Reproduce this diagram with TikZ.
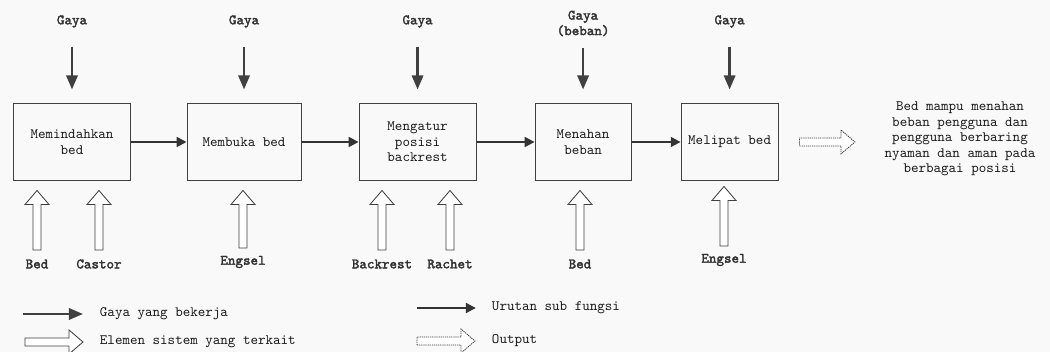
\documentclass[tikz,border=0pt]{standalone}
\usepackage{fontspec}
\setmonofont{lmmono10-regular}[Extension=.otf, AutoFakeBold=2.3]
\usepackage{tikz}
\usetikzlibrary{positioning, arrows.meta, calc}

\begin{document}
\begin{tikzpicture}[
    % Define styles for the boxes, labels and arrows
    x=0.025cm, y=-0.025cm,
    font=\ttfamily\fontsize{10.2}{11}\selectfont,
    box/.style={draw=black!75, line width=0.7pt, rectangle, align=center, minimum height=1.9cm, inner sep=3pt, text=black!90},
    gaya/.style={font=\ttfamily\fontsize{10.2}{11}\selectfont\bfseries, align=center, text=black!80},
    elemen/.style={font=\ttfamily\fontsize{10.2}{11}\selectfont\bfseries, text=black!80},
    legend/.style={anchor=west, text=black!90},
    force/.style={-{Triangle[length=10pt,width=8pt]}, line width=1.8pt, draw=black!75},
    gayaarrow/.style={force, shorten <=0.35cm, shorten >=0.35cm},
    seq/.style={-{Triangle[length=7pt,width=7pt]}, line width=1.4pt, draw=black!80},
    dots/.style={dash pattern=on 0.9pt off 0.6pt},
    hollow/.style 2 args={draw=black!75, fill=white, line width=0.6pt, to path={
        ($(\tikztostart)!#1!(\tikztotarget)!0.1cm!-90:(\tikztotarget)$)
        -- ($(\tikztotarget)!#2+0.35cm!(\tikztostart)!0.1cm!90:(\tikztostart)$)
        -- ($(\tikztotarget)!#2+0.35cm!(\tikztostart)!0.3cm!90:(\tikztostart)$)
        -- ($(\tikztotarget)!#2!(\tikztostart)$)
        -- ($(\tikztotarget)!#2+0.35cm!(\tikztostart)!0.3cm!-90:(\tikztostart)$)
        -- ($(\tikztotarget)!#2+0.35cm!(\tikztostart)!0.1cm!-90:(\tikztostart)$)
        -- ($(\tikztostart)!#1!(\tikztotarget)!0.1cm!90:(\tikztotarget)$)
        -- cycle}}
]

    % Background and frame
    \fill[gray!5] (0,0) rectangle (1050,352);
    \useasboundingbox (0,0) rectangle (1050,352);

    % Sub functions
    \node[box, minimum width=2.9cm] (box1) at (72,142) {Memindahkan\\bed};
    \node[box, minimum width=2.85cm, right=1.4cm of box1] (box2) {Membuka bed};
    \node[box, minimum width=2.925cm, right=1.425cm of box2] (box3) {Mengatur\\posisi\\backrest};
    \node[box, minimum width=2.4cm, right=1.45cm of box3] (box4) {Menahan\\beban};
    \node[box, minimum width=2.425cm, right=1.225cm of box4] (box5) {Melipat bed};

    % Output text
    \node[align=center, text=black!90] (hasil) at (960,139) {Bed mampu menahan\\beban pengguna dan\\pengguna berbaring\\nyaman dan aman pada\\berbagai posisi};

    % Forces
    \node[gaya] (g1) at ([yshift=2.05cm]box1.north) {Gaya};
    \node[gaya] (g2) at ([yshift=2.05cm]box2.north) {Gaya};
    \node[gaya] (g3) at ([yshift=2.05cm]box3.north) {Gaya};
    \node[gaya] (g4) at ([yshift=2cm]box4.north) {Gaya\\(beban)};
    \node[gaya] (g5) at ([yshift=2.05cm]box5.north) {Gaya};

    % System elements
    \node[elemen] (bed1) at (37,264) {Bed};
    \node[elemen] (castor) at (99,264) {Castor};
    \node[elemen] (engsel1) at (243,262) {Engsel};
    \node[elemen] (backrest) at (382,264) {Backrest};
    \node[elemen] (rachet) at (450,264) {Rachet};
    \node[elemen] (bed2) at (580,264) {Bed};
    \node[elemen] (engsel2) at (724,260) {Engsel};

    % Sequence of sub functions
    \draw[seq] (box1) -- (box2);
    \draw[seq] (box2) -- (box3);
    \draw[seq] (box3) -- (box4);
    \draw[seq] (box4) -- (box5);
    \draw[hollow={0.52cm}{0.62cm}, dots] (box5.east) to (box5 -| hasil.west);

    % Force arrows
    \draw[gayaarrow] (g1) -- (box1);
    \draw[gayaarrow] (g2) -- (box2);
    \draw[gayaarrow] (g3) -- (box3);
    \draw[gayaarrow, shorten <=0.18cm] (g4) -- (box4);
    \draw[gayaarrow] (g5) -- (box5);

    % Element arrows
    \draw[hollow={0.35cm}{0.25cm}] (bed1) to (box1.south -| bed1);
    \draw[hollow={0.35cm}{0.25cm}] (castor) to (box1.south -| castor);
    \draw[hollow={0.35cm}{0.25cm}] (engsel1) to (box2.south -| engsel1);
    \draw[hollow={0.35cm}{0.25cm}] (backrest) to (box3.south -| backrest);
    \draw[hollow={0.35cm}{0.25cm}] (rachet) to (box3.south -| rachet);
    \draw[hollow={0.35cm}{0.25cm}] (bed2) to (box4.south -| bed2);
    \draw[hollow={0.35cm}{0.15cm}] (engsel2) to (box5.south -| engsel2);

    % Legend
    \coordinate (l1s) at (23,314);
    \node[legend] (l1) at (95,314) {Gaya yang bekerja};
    \coordinate (l2s) at (25,342);
    \node[legend] (l2) at (95,342) {Elemen sistem yang terkait};
    \coordinate (l3s) at (417,308);
    \node[legend] (l3) at (487,308) {Urutan sub fungsi};
    \coordinate (l4s) at (417,341);
    \node[legend] (l4) at (487,341) {Output};

    \draw[force, shorten >=0.3cm] (l1s) -- (l1);
    \draw[hollow={0cm}{0.3cm}] (l2s) to (l2.west);
    \draw[seq, shorten >=0.28cm] (l3s) -- (l3);
    \draw[hollow={0cm}{0.3cm}, dots] (l4s) to (l4.west);
\end{tikzpicture}
\end{document}
